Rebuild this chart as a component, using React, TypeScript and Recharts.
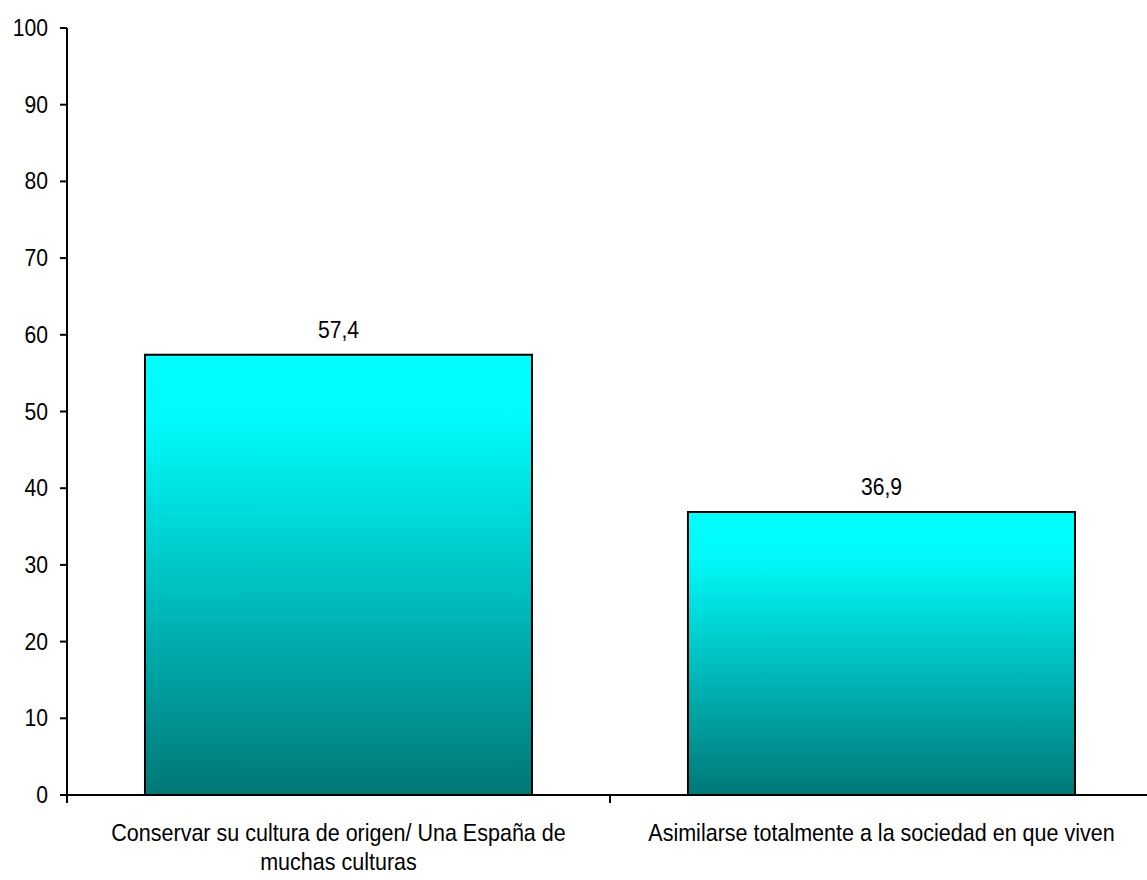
import React from 'react'
import { BarChart, Bar, XAxis, YAxis, LabelList } from 'recharts'

const categories = [
  ['Conservar su cultura de origen/ Una España de', 'muchas culturas'],
  ['Asimilarse totalmente a la sociedad en que viven'],
]
const values = [57.4, 36.9]
const yTicks = [0, 10, 20, 30, 40, 50, 60, 70, 80, 90, 100]
const boundaryTicks = [0, 1, 2]

const data = categories.map((lines, i) => ({ name: lines.join(' '), idx: i, value: values[i] }))

const FONT = '"Liberation Sans", Arial, sans-serif'

const NarrowText = ({ x, y, anchor, sx = 0.88, children }: any) => (
  <g transform={`translate(${x},${y}) scale(${sx},1)`}>
    <text x={0} y={0} textAnchor={anchor} fontSize={24} fill="#000" fontFamily={FONT}>
      {children}
    </text>
  </g>
)

const CatTick = (props: any) => {
  const { x, y, payload } = props
  const lines = categories[payload.index] || [payload.value]
  return (
    <g>
      {lines.map((l, i) => (
        <NarrowText key={i} x={x} y={y + 38 + i * 29} anchor="middle" sx={0.897}>
          {l}
        </NarrowText>
      ))}
    </g>
  )
}

// tick marks between the categories, hanging below the axis
const EdgeTick = (props: any) => {
  const { x, y } = props
  return <line x1={x} x2={x} y1={y - 1} y2={y + 7} stroke="#000" strokeWidth={2} />
}

const YTick = (props: any) => {
  const { x, y, payload } = props
  return (
    <NarrowText x={x} y={y + 8} anchor="end">
      {payload.value}
    </NarrowText>
  )
}

const ValueLabel = (props: any) => {
  const { x, y, width, value } = props
  return (
    <NarrowText x={x + width / 2} y={y - 17} anchor="middle">
      {String(value).replace('.', ',')}
    </NarrowText>
  )
}

export default function App() {
  return (
    <div style={{ position: 'absolute', left: 0, top: 0, width: 1147, height: 880, overflow: 'hidden', background: '#fff' }}>
      <BarChart
        width={1153}
        height={880}
        data={data}
        margin={{ top: 28, right: 0, left: 7, bottom: 83 }}
        barCategoryGap="14.36%"
      >
        <defs>
          <linearGradient id="barFill" x1="0" y1="0" x2="0" y2="1">
            <stop offset="0%" stopColor="#00ffff" />
            <stop offset="15%" stopColor="#00fbfb" />
            <stop offset="100%" stopColor="#007777" />
          </linearGradient>
        </defs>
        <XAxis
          xAxisId="cat"
          dataKey="name"
          axisLine={{ stroke: '#000', strokeWidth: 2 }}
          tickLine={false}
          tick={<CatTick />}
          interval={0}
          height={1}
        />
        <XAxis
          xAxisId="edges"
          type="number"
          dataKey="idx"
          domain={[0, 2]}
          allowDataOverflow
          ticks={boundaryTicks}
          interval={0}
          axisLine={false}
          tickLine={false}
          tickSize={0}
          tickMargin={0}
          tick={<EdgeTick />}
          height={1}
        />
        <YAxis
          domain={[0, 100]}
          ticks={yTicks}
          interval={0}
          width={60}
          axisLine={{ stroke: '#000', strokeWidth: 2 }}
          tickLine={{ stroke: '#000', strokeWidth: 2 }}
          tickSize={7}
          tickMargin={12}
          tick={<YTick />}
        />
        <Bar
          xAxisId="cat"
          dataKey="value"
          fill="url(#barFill)"
          stroke="#000"
          strokeWidth={2}
          isAnimationActive={false}
        >
          <LabelList dataKey="value" content={<ValueLabel />} />
        </Bar>
      </BarChart>
    </div>
  )
}
